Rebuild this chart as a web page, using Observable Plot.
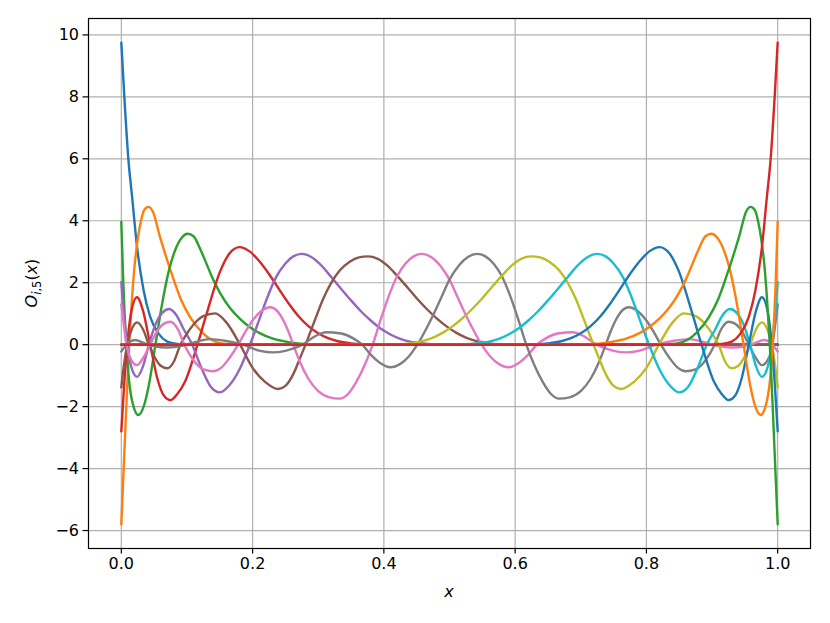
<!DOCTYPE html>
<html>
<head>
<meta charset="utf-8">
<script src="https://cdn.jsdelivr.net/npm/d3@7"></script>
<script src="https://cdn.jsdelivr.net/npm/@observablehq/plot@0.6"></script>
<style>
  html, body { margin: 0; padding: 0; background: #fff; }
  #chart { width: 830px; height: 623px; }
</style>
</head>
<body>
<div id="chart"></div>
<script>
// Tick values
const xTicks = [0, 0.2, 0.4, 0.6, 0.8, 1.0];
const yTicks = [-6, -4, -2, 0, 2, 4, 6, 8, 10];

// Curve colours (matplotlib tab10 cycle)
const colors = ["#1f77b4", "#ff7f0e", "#2ca02c", "#d62728", "#9467bd", "#8c564b", "#e377c2",
                "#7f7f7f", "#bcbd22", "#17becf", "#1f77b4", "#ff7f0e", "#2ca02c", "#d62728"];

// O_{1,5}
const o1x = [0, 0.0046, 0.0107, 0.0163, 0.024, 0.034, 0.044, 0.057, 0.07, 0.085, 0.1, 0.13, 1];
const o1y = [9.75, 8.0, 6.0, 4.8, 3.15, 1.75, 0.9, 0.35, 0.1, 0.02, 0, 0, 0];
// O_{2,5}
const o2x = [0, 0.004, 0.008, 0.012, 0.016, 0.02, 0.025, 0.03, 0.035, 0.041, 0.048, 0.059, 0.075, 0.09, 0.105, 0.123, 0.138, 0.155, 0.18, 1];
const o2y = [-5.8, -3.8, -1.8, 0, 1.4, 2.5, 3.4, 4.0, 4.35, 4.45, 4.3, 3.47, 2.4, 1.5, 0.88, 0.4, 0.15, 0.03, 0, 0];
// O_{3,5}
const o3x = [0, 0.003, 0.0076, 0.012, 0.018, 0.026, 0.034, 0.042, 0.052, 0.062, 0.072, 0.082, 0.092, 0.101, 0.11, 0.12, 0.13, 0.14, 0.151, 0.165, 0.18, 0.195, 0.21, 0.23, 0.255, 0.29, 0.32, 1];
const o3y = [3.97, 2.0, 0, -1.2, -1.95, -2.27, -2.0, -1.3, 0, 1.3, 2.35, 3.05, 3.45, 3.58, 3.5, 3.1, 2.6, 2.1, 1.65, 1.2, 0.85, 0.58, 0.38, 0.2, 0.08, 0.01, 0, 0];
// O_{4,5}
const o4x = [0, 0.004, 0.009, 0.015, 0.024, 0.033, 0.044, 0.055, 0.065, 0.075, 0.085, 0.097, 0.116, 0.13, 0.151, 0.165, 0.18, 0.195, 0.21, 0.225, 0.24, 0.255, 0.27, 0.285, 0.3, 0.315, 0.33, 0.35, 0.38, 1];
const o4y = [-2.8, -1.4, 0, 1.05, 1.53, 1.1, 0, -1.1, -1.65, -1.79, -1.6, -1.2, 0, 1.0, 2.39, 2.95, 3.15, 3.02, 2.7, 2.28, 1.8, 1.33, 0.92, 0.6, 0.37, 0.21, 0.11, 0.04, 0, 0];
// O_{5,5}
const o5x = [0, 0.004, 0.009, 0.015, 0.024, 0.033, 0.042, 0.052, 0.062, 0.073, 0.084, 0.095, 0.108, 0.122, 0.136, 0.15, 0.165, 0.18, 0.196, 0.21, 0.222, 0.235, 0.25, 0.262, 0.275, 0.29, 0.305, 0.32, 0.335, 0.35, 0.365, 0.38, 0.395, 0.41, 0.425, 0.44, 0.46, 0.49, 1];
const o5y = [2.02, 0.95, 0, -0.7, -1.04, -0.7, 0, 0.65, 1.02, 1.15, 0.95, 0.5, 0, -0.75, -1.35, -1.54, -1.3, -0.8, 0, 0.8, 1.5, 2.15, 2.62, 2.85, 2.93, 2.82, 2.55, 2.18, 1.8, 1.43, 1.08, 0.78, 0.52, 0.33, 0.19, 0.1, 0.04, 0, 0];
// O_{6,5}
const o6x = [0, 0.004, 0.009, 0.015, 0.024, 0.033, 0.042, 0.052, 0.06, 0.07, 0.08, 0.09, 0.097, 0.11, 0.125, 0.143, 0.16, 0.181, 0.2, 0.219, 0.239, 0.25, 0.262, 0.272, 0.283, 0.295, 0.308, 0.32, 0.333, 0.348, 0.362, 0.376, 0.39, 0.405, 0.42, 0.435, 0.45, 0.465, 0.48, 0.495, 0.51, 0.525, 0.54, 0.56, 0.59, 1];
const o6y = [-1.38, -0.65, 0, 0.45, 0.72, 0.5, 0, -0.45, -0.68, -0.76, -0.55, 0, 0.26, 0.65, 0.92, 1.01, 0.72, 0, -0.75, -1.2, -1.43, -1.33, -0.95, -0.45, 0.13, 0.8, 1.5, 2.0, 2.4, 2.68, 2.82, 2.85, 2.78, 2.56, 2.23, 1.87, 1.5, 1.16, 0.86, 0.6, 0.39, 0.23, 0.12, 0.04, 0, 0];
// O_{7,5}
const o7x = [0, 0.004, 0.008, 0.014, 0.024, 0.034, 0.044, 0.055, 0.065, 0.075, 0.086, 0.096, 0.11, 0.125, 0.14, 0.152, 0.165, 0.178, 0.19, 0.2, 0.213, 0.227, 0.237, 0.247, 0.255, 0.262, 0.272, 0.285, 0.3, 0.317, 0.333, 0.345, 0.358, 0.37, 0.383, 0.395, 0.408, 0.42, 0.433, 0.446, 0.458, 0.472, 0.486, 0.5, 0.513, 0.525, 0.537, 0.549, 0.562, 0.575, 0.59, 0.605, 0.62, 0.633, 0.648, 0.665, 0.688, 0.705, 0.724, 0.75, 0.77, 0.79, 0.815, 0.84, 0.866, 0.885, 0.906, 0.93, 0.95, 0.965, 0.979, 0.99, 1];
const o7y = [1.3, 0.6, 0, -0.45, -0.66, -0.4, 0, 0.45, 0.68, 0.74, 0.5, 0, -0.5, -0.8, -0.86, -0.75, -0.42, 0, 0.45, 0.78, 1.08, 1.21, 1.1, 0.78, 0.4, 0, -0.55, -1.1, -1.5, -1.7, -1.74, -1.6, -1.2, -0.7, 0, 0.8, 1.6, 2.2, 2.62, 2.86, 2.93, 2.83, 2.55, 2.1, 1.5, 0.95, 0.45, 0, -0.38, -0.62, -0.73, -0.6, -0.32, 0, 0.22, 0.36, 0.40, 0.27, 0, -0.2, -0.25, -0.19, 0, 0.12, 0.18, 0.1, -0.03, -0.09, -0.05, 0.05, 0.15, 0.05, -0.22];
// O_{8,5}
const o8x = [0, 0.01, 0.021, 0.035, 0.05, 0.07, 0.094, 0.115, 0.134, 0.16, 0.185, 0.21, 0.23, 0.25, 0.276, 0.295, 0.312, 0.335, 0.352, 0.367, 0.38, 0.395, 0.41, 0.425, 0.438, 0.451, 0.463, 0.475, 0.487, 0.5, 0.514, 0.528, 0.542, 0.554, 0.567, 0.58, 0.592, 0.605, 0.617, 0.63, 0.642, 0.655, 0.667, 0.683, 0.7, 0.715, 0.728, 0.738, 0.745, 0.753, 0.763, 0.773, 0.787, 0.8, 0.81, 0.822, 0.835, 0.848, 0.86, 0.875, 0.89, 0.904, 0.914, 0.925, 0.935, 0.945, 0.956, 0.966, 0.976, 0.986, 0.992, 0.996, 1];
const o8y = [-0.22, 0.05, 0.15, 0.05, -0.05, -0.09, -0.03, 0.1, 0.18, 0.12, 0, -0.19, -0.25, -0.2, 0, 0.27, 0.40, 0.36, 0.22, 0, -0.32, -0.6, -0.73, -0.62, -0.38, 0, 0.45, 0.95, 1.5, 2.1, 2.55, 2.83, 2.93, 2.86, 2.62, 2.2, 1.6, 0.8, 0, -0.7, -1.2, -1.6, -1.74, -1.7, -1.5, -1.1, -0.55, 0, 0.4, 0.78, 1.1, 1.21, 1.08, 0.78, 0.45, 0, -0.42, -0.75, -0.86, -0.8, -0.5, 0, 0.5, 0.74, 0.68, 0.45, 0, -0.4, -0.66, -0.45, 0, 0.6, 1.3];
// O_{9,5}
const o9x = [0, 0.41, 0.44, 0.46, 0.475, 0.49, 0.505, 0.52, 0.535, 0.55, 0.565, 0.58, 0.595, 0.61, 0.624, 0.638, 0.652, 0.667, 0.68, 0.692, 0.705, 0.717, 0.728, 0.738, 0.75, 0.761, 0.781, 0.8, 0.819, 0.84, 0.857, 0.875, 0.89, 0.903, 0.91, 0.92, 0.93, 0.94, 0.948, 0.958, 0.967, 0.976, 0.985, 0.991, 0.996, 1];
const o9y = [0, 0, 0.04, 0.12, 0.23, 0.39, 0.6, 0.86, 1.16, 1.5, 1.87, 2.23, 2.56, 2.78, 2.85, 2.82, 2.68, 2.4, 2.0, 1.5, 0.8, 0.13, -0.45, -0.95, -1.33, -1.43, -1.2, -0.75, 0, 0.72, 1.01, 0.92, 0.65, 0.26, 0, -0.55, -0.76, -0.68, -0.45, 0, 0.5, 0.72, 0.45, 0, -0.65, -1.38];
// O_{10,5}
const o10x = [0, 0.51, 0.54, 0.56, 0.575, 0.59, 0.605, 0.62, 0.635, 0.65, 0.665, 0.68, 0.695, 0.71, 0.725, 0.738, 0.75, 0.765, 0.778, 0.79, 0.804, 0.82, 0.835, 0.85, 0.864, 0.878, 0.892, 0.905, 0.916, 0.927, 0.938, 0.948, 0.958, 0.967, 0.976, 0.985, 0.991, 0.996, 1];
const o10y = [0, 0, 0.04, 0.1, 0.19, 0.33, 0.52, 0.78, 1.08, 1.43, 1.8, 2.18, 2.55, 2.82, 2.93, 2.85, 2.62, 2.15, 1.5, 0.8, 0, -0.8, -1.3, -1.54, -1.35, -0.75, 0, 0.5, 0.95, 1.15, 1.02, 0.65, 0, -0.7, -1.04, -0.7, 0, 0.95, 2.02];
// O_{11,5}
const o11x = [0, 0.62, 0.65, 0.67, 0.685, 0.7, 0.715, 0.73, 0.745, 0.76, 0.775, 0.79, 0.805, 0.82, 0.835, 0.849, 0.87, 0.884, 0.903, 0.915, 0.925, 0.935, 0.945, 0.956, 0.967, 0.976, 0.985, 0.991, 0.996, 1];
const o11y = [0, 0, 0.04, 0.11, 0.21, 0.37, 0.6, 0.92, 1.33, 1.8, 2.28, 2.7, 3.02, 3.15, 2.95, 2.39, 1.0, 0, -1.2, -1.6, -1.79, -1.65, -1.1, 0, 1.1, 1.53, 1.05, 0, -1.4, -2.8];
// O_{12,5}
const o12x = [0, 0.68, 0.71, 0.745, 0.77, 0.79, 0.805, 0.82, 0.835, 0.849, 0.86, 0.87, 0.88, 0.89, 0.899, 0.908, 0.918, 0.928, 0.938, 0.948, 0.958, 0.966, 0.974, 0.982, 0.988, 0.9924, 0.997, 1];
const o12y = [0, 0, 0.01, 0.08, 0.2, 0.38, 0.58, 0.85, 1.2, 1.65, 2.1, 2.6, 3.1, 3.5, 3.58, 3.45, 3.05, 2.35, 1.3, 0, -1.3, -2.0, -2.27, -1.95, -1.2, 0, 2.0, 3.97];
// O_{13,5}
const o13x = [0, 0.82, 0.845, 0.862, 0.877, 0.895, 0.91, 0.925, 0.941, 0.952, 0.959, 0.965, 0.97, 0.975, 0.98, 0.984, 0.988, 0.992, 0.996, 1];
const o13y = [0, 0, 0.03, 0.15, 0.4, 0.88, 1.5, 2.4, 3.47, 4.3, 4.45, 4.35, 4.0, 3.4, 2.5, 1.4, 0, -1.8, -3.8, -5.8];
// O_{14,5}
const o14x = [0, 0.87, 0.9, 0.915, 0.93, 0.943, 0.956, 0.966, 0.976, 0.9837, 0.9893, 0.9954, 1];
const o14y = [0, 0, 0, 0.02, 0.1, 0.35, 0.9, 1.75, 3.15, 4.8, 6.0, 8.0, 9.75];

const seriesX = [o1x, o2x, o3x, o4x, o5x, o6x, o7x, o8x, o9x, o10x, o11x, o12x, o13x, o14x];
const seriesY = [o1y, o2y, o3y, o4y, o5y, o6y, o7y, o8y, o9y, o10y, o11y, o12y, o13y, o14y];

const fmtY = d => (d < 0 ? "\u2212" + Math.abs(d) : String(d));

const lineMarks = seriesX.map((xs, k) => {
  const rows = xs.map((x, j) => ({x, y: seriesY[k][j]}));
  return Plot.line(rows, {x: "x", y: "y", stroke: colors[k], strokeWidth: 2.4, curve: "monotone-x"});
});

const grid = {stroke: "#b0b0b0", strokeOpacity: 1, strokeWidth: 1.2};

const chart = Plot.plot({
  width: 830,
  height: 623,
  marginLeft: 88,
  marginRight: 20,
  marginTop: 18,
  marginBottom: 75,
  style: {fontFamily: "DejaVu Sans", fontSize: "16px", color: "black", background: "white"},
  x: {domain: [-0.05, 1.05]},
  y: {domain: [-6.58, 10.53]},
  marks: [
    Plot.gridX(xTicks, grid),
    Plot.gridY(yTicks, grid),
    ...lineMarks,
    Plot.frame({stroke: "black", strokeWidth: 1.2}),
    Plot.axisX(xTicks, {tickFormat: d => d.toFixed(1), tickSize: 5.5, tickPadding: 4, label: null, strokeWidth: 1.2, fontSize: 16}),
    Plot.axisY(yTicks, {tickFormat: fmtY, tickSize: 5.5, tickPadding: 4, label: null, strokeWidth: 1.2, fontSize: 16})
  ]
});

document.getElementById("chart").appendChild(chart);

// Axis titles (mathtext-like)
const svg = d3.select(chart);
svg.append("text")
  .attr("x", 449).attr("y", 597)
  .attr("text-anchor", "middle")
  .attr("font-family", "DejaVu Sans").attr("font-size", 16).attr("font-style", "italic")
  .attr("fill", "black")
  .text("x");

const yl = svg.append("text")
  .attr("transform", "translate(37,283) rotate(-90)")
  .attr("text-anchor", "middle")
  .attr("font-family", "DejaVu Sans").attr("font-size", 16)
  .attr("fill", "black");
yl.append("tspan").attr("font-style", "italic").text("O");
yl.append("tspan").attr("font-style", "italic").attr("font-size", 11.5).attr("dy", 3.5).text("i");
yl.append("tspan").attr("font-size", 11.5).text(",5");
yl.append("tspan").attr("dy", -3.5).text("(");
yl.append("tspan").attr("font-style", "italic").text("x");
yl.append("tspan").text(")");
</script>
</body>
</html>
